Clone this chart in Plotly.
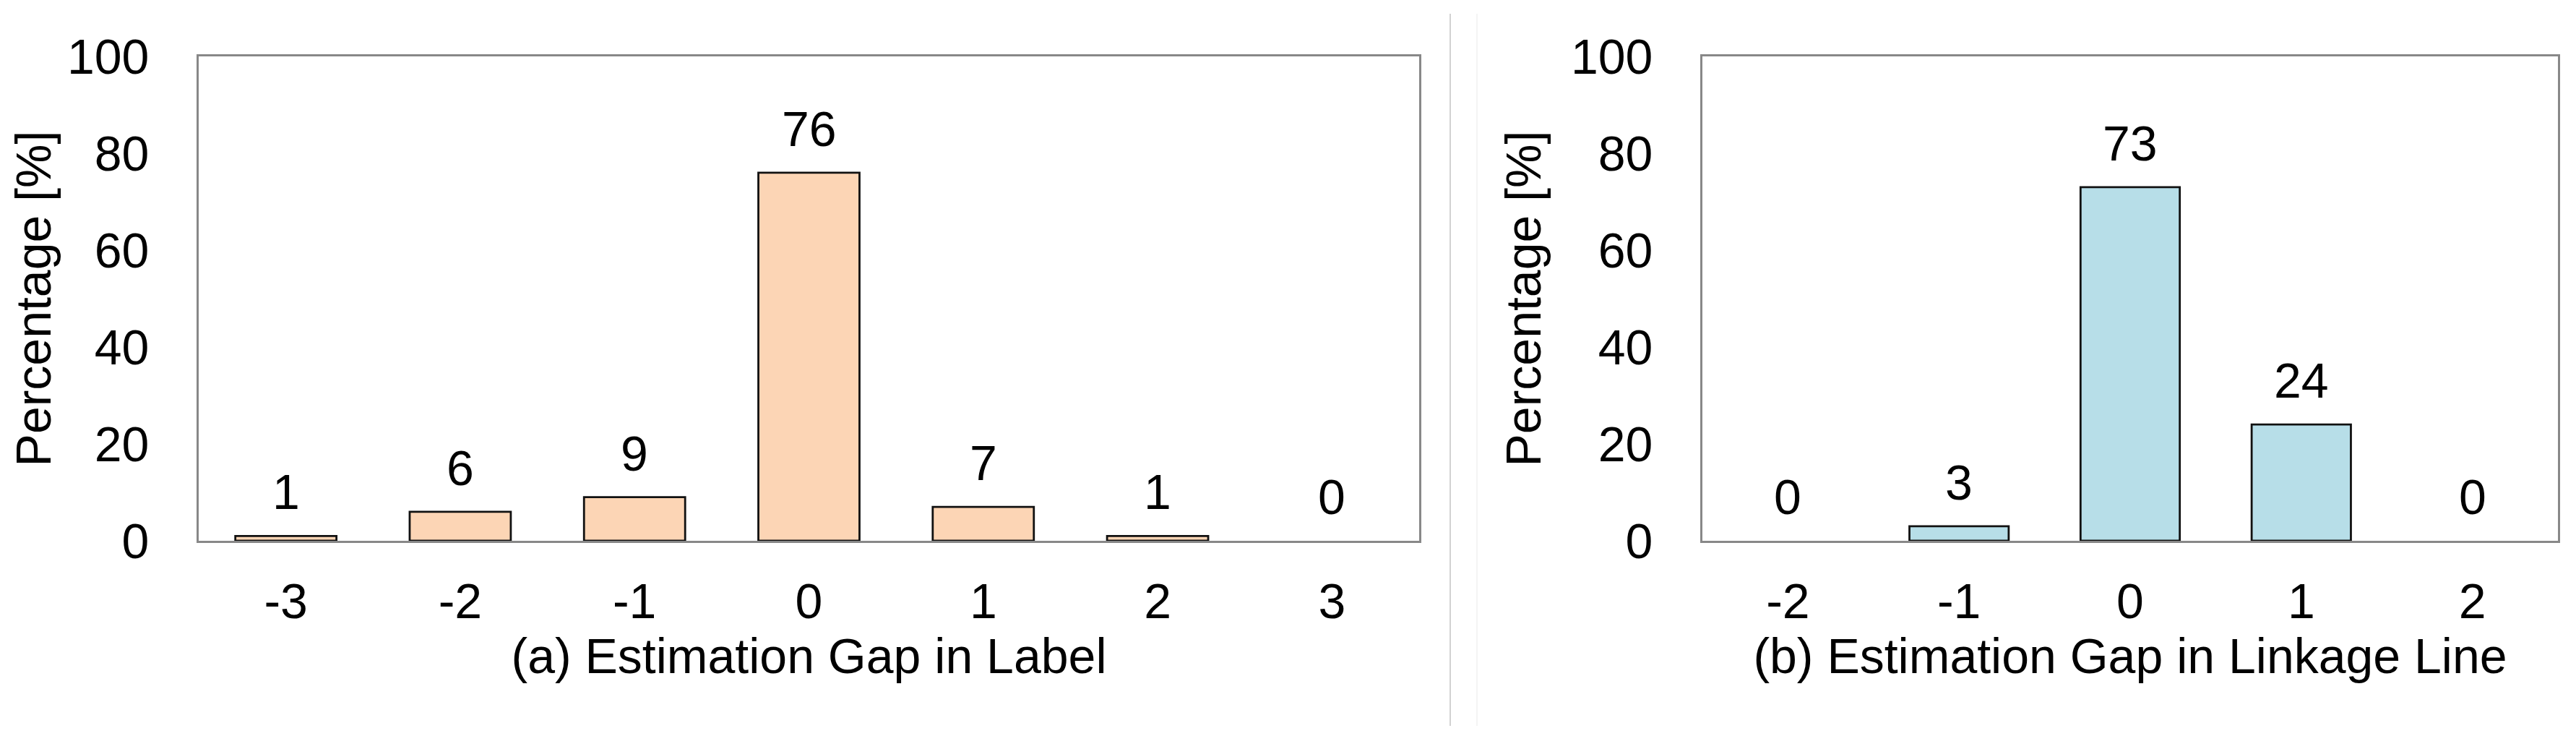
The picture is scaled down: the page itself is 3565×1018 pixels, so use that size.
import plotly.graph_objects as go

# ---- data ----
label_gap_categories = ["-3", "-2", "-1", "0", "1", "2", "3"]
label_gap_percent = [1, 6, 9, 76, 7, 1, 0]

linkage_gap_categories = ["-2", "-1", "0", "1", "2"]
linkage_gap_percent = [0, 3, 73, 24, 0]

y_ticks = [0, 20, 40, 60, 80, 100]

title_a = "(a) Estimation Gap in Label"
title_b = "(b) Estimation Gap in Linkage Line"
y_title = "Percentage [%]"

# ---- style ----
FONT = "Liberation Sans, Arial, sans-serif"
FS = 68
ORANGE = "#FCD5B5"
BLUE = "#B7DEE8"
AXIS_GRAY = "#888888"

W, H = 3565, 1018
L, R, T, B = 267, 33, 70, 278
plot_w = W - L - R
plot_h = H - T - B

fig = go.Figure()

def outline_widths(vals):
    # zero-height bars show no outline in the original
    return [0 if v == 0 else 2.8 for v in vals]

fig.add_trace(go.Bar(
    x=label_gap_categories, y=label_gap_percent,
    marker=dict(color=ORANGE, line=dict(color="#111111", width=outline_widths(label_gap_percent))),
    xaxis="x", yaxis="y", showlegend=False, hoverinfo="x+y",
))
fig.add_trace(go.Bar(
    x=linkage_gap_categories, y=linkage_gap_percent,
    marker=dict(color=BLUE, line=dict(color="#111111", width=outline_widths(linkage_gap_percent))),
    xaxis="x2", yaxis="y2", showlegend=False, hoverinfo="x+y",
))

annotations = []
for cats, vals, xr, yr in [(label_gap_categories, label_gap_percent, "x", "y"),
                           (linkage_gap_categories, linkage_gap_percent, "x2", "y2")]:
    for i, v in enumerate(vals):
        # i is the position of category cats[i] on the category axis
        annotations.append(dict(
            x=i, y=v, xref=xr, yref=yr, text=str(v), showarrow=False,
            yanchor="bottom", xanchor="center", yshift=21,
            font=dict(family=FONT, size=FS, color="#000000"),
        ))

dom_a = [0, (1956 - L) / plot_w]
dom_b = [(2348 - L) / plot_w, 1]

common_x = dict(
    type="category", showline=True, mirror=True, linecolor=AXIS_GRAY, linewidth=3,
    showgrid=False, zeroline=False, ticks="", ticklabelstandoff=22,
    tickfont=dict(family=FONT, size=FS, color="#000000"),
)
common_y = dict(
    range=[0, 100], tickvals=y_ticks, showline=True, mirror=True,
    linecolor=AXIS_GRAY, linewidth=3, showgrid=False, zeroline=False,
    ticks="", ticklabelstandoff=52,
    tickfont=dict(family=FONT, size=FS, color="#000000"),
)

sep_y0 = (H - B - 996) / plot_h
sep_y1 = (H - B - 11) / plot_h

fig.update_layout(
    width=W, height=H,
    margin=dict(l=L, r=R, t=T, b=B, autoexpand=False),
    paper_bgcolor="white", plot_bgcolor="white",
    bargap=0.42,
    font=dict(family=FONT, size=FS, color="#000000"),
    xaxis=dict(domain=dom_a, anchor="y", range=[-0.5, len(label_gap_categories) - 0.5],
               title=dict(text=title_a, standoff=14, font=dict(family=FONT, size=FS)),
               **common_x),
    yaxis=dict(domain=[0, 1], anchor="x",
               title=dict(text=y_title, standoff=20, font=dict(family=FONT, size=FS)),
               **common_y),
    xaxis2=dict(domain=dom_b, anchor="y2", range=[-0.5, len(linkage_gap_categories) - 0.5],
                title=dict(text=title_b, standoff=14, font=dict(family=FONT, size=FS)),
                **common_x),
    yaxis2=dict(domain=[0, 1], anchor="x2",
                title=dict(text=y_title, standoff=20, font=dict(family=FONT, size=FS)),
                **common_y),
    annotations=annotations,
    shapes=[
        dict(type="line", xref="paper", yref="paper",
             x0=(1999 - L) / plot_w, x1=(1999 - L) / plot_w, y0=sep_y0, y1=sep_y1,
             line=dict(color="#D2D2D2", width=2), layer="below"),
        dict(type="line", xref="paper", yref="paper",
             x0=(2036 - L) / plot_w, x1=(2036 - L) / plot_w, y0=sep_y0, y1=sep_y1,
             line=dict(color="#F0F0F0", width=1.5), layer="below"),
    ],
)

fig.write_html("out.html")
